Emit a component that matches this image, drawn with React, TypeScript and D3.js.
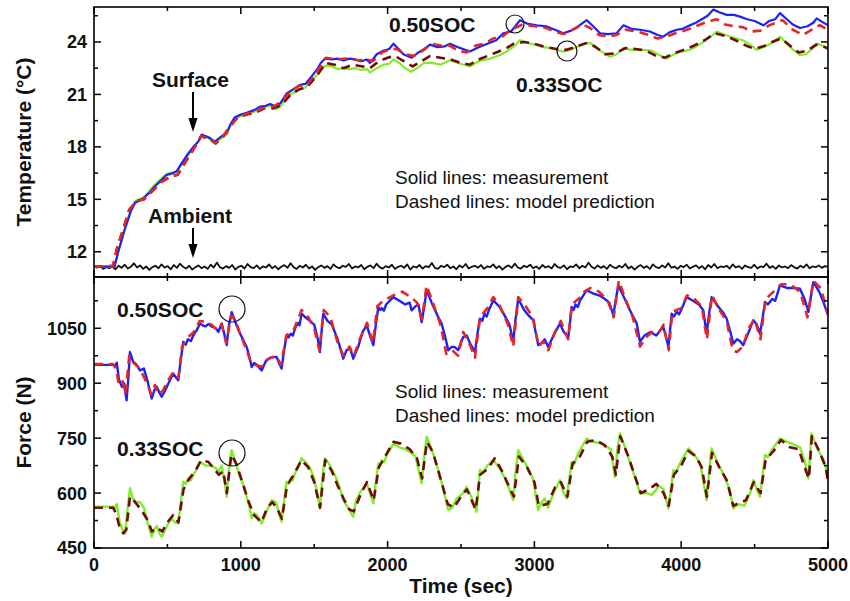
import React from "react";
import * as d3 from "d3";

// ---------- DATA ----------
const timeTicks = [0, 1000, 2000, 3000, 4000, 5000];
const timeMinorTicks = [500, 1500, 2500, 3500, 4500];
const tempTicks = [12, 15, 18, 21, 24];
const tempMinorTicks = [13.5, 16.5, 19.5, 22.5, 25.5];
const forceTicks = [450, 600, 750, 900, 1050];
const forceMinorTicks = [525, 675, 825, 975, 1125];

// Temperature, 0.50 SOC measurement (blue)
const temp50Meas: [number, number][] = [
  [0, 11.15], [140, 11.15], [165, 12.0], [210, 13.3], [250, 14.3], [280, 14.8], [336, 15.05], [380, 15.4], [415, 15.75],
  [460, 16.1], [495, 16.4], [540, 16.5], [563, 16.6], [600, 17.1], [640, 17.6], [677, 18.0], [710, 18.3], [733, 18.7],
  [780, 18.55], [824, 18.3], [860, 18.55], [904, 18.8], [930, 19.3], [960, 19.7], [1000, 19.85], [1040, 19.95],
  [1090, 20.1], [1131, 20.3], [1170, 20.35], [1199, 20.45], [1240, 20.3], [1270, 20.5], [1312, 21.05], [1360, 21.3],
  [1403, 21.55], [1440, 21.6], [1470, 21.9], [1517, 22.4], [1545, 22.8], [1574, 23.05], [1620, 23.0], [1660, 23.05],
  [1700, 22.95], [1740, 23.05], [1780, 23.0], [1820, 22.9], [1858, 23.0], [1880, 22.8], [1926, 23.3], [1970, 23.5],
  [2010, 23.6], [2040, 23.9], [2075, 23.6], [2107, 23.3], [2164, 23.1], [2210, 23.4], [2250, 23.6], [2289, 23.85],
  [2340, 23.7], [2390, 23.75], [2425, 23.9], [2480, 23.7], [2561, 23.45], [2620, 23.7], [2680, 23.9], [2740, 24.1],
  [2788, 24.5], [2840, 24.6], [2870, 24.9], [2902, 25.25], [2950, 25.05], [3016, 24.95], [3080, 24.9], [3140, 24.7],
  [3197, 24.5], [3250, 24.65], [3300, 24.9], [3356, 25.25], [3400, 24.9], [3447, 24.5], [3500, 24.45], [3560, 24.5],
  [3606, 24.95], [3660, 24.75], [3720, 24.7], [3787, 24.6], [3840, 24.4], [3878, 24.3], [3920, 24.55], [3969, 24.7],
  [4010, 24.75], [4060, 24.95], [4100, 25.1], [4140, 25.3], [4180, 25.5], [4219, 25.85], [4260, 25.7], [4310, 25.55],
  [4360, 25.55], [4400, 25.45], [4450, 25.3], [4500, 25.2], [4560, 24.95], [4600, 25.2], [4640, 25.3], [4673, 25.65],
  [4720, 25.3], [4760, 25.0], [4809, 24.8], [4860, 24.9], [4900, 25.1], [4923, 25.35], [4960, 25.15], [5000, 24.95],
];

// Temperature, 0.50 SOC model (red dashed)
const temp50Model: [number, number][] = [
  [0, 11.15], [130, 11.2], [160, 12.3], [200, 13.3], [240, 14.4], [290, 14.9], [340, 15.0], [400, 15.5], [460, 16.0],
  [520, 16.3], [570, 16.4], [620, 17.1], [680, 17.9], [730, 18.6], [780, 18.5], [830, 18.2], [880, 18.6], [930, 19.2],
  [980, 19.7], [1040, 19.9], [1100, 20.0], [1160, 20.25], [1220, 20.3], [1280, 20.6], [1340, 21.2], [1400, 21.5],
  [1450, 21.5], [1520, 22.3], [1580, 23.1], [1650, 23.0], [1720, 23.05], [1800, 22.95], [1860, 23.0], [1900, 22.9],
  [1960, 23.4], [2020, 23.6], [2060, 23.6], [2120, 23.3], [2180, 23.2], [2240, 23.5], [2300, 23.9], [2360, 23.8],
  [2420, 23.8], [2480, 23.5], [2540, 23.4], [2600, 23.8], [2660, 23.9], [2720, 24.2], [2780, 24.3], [2840, 24.7],
  [2920, 25.0], [3000, 24.9], [3080, 24.8], [3150, 24.55], [3200, 24.45], [3260, 24.7], [3330, 25.0], [3380, 24.8],
  [3440, 24.4], [3500, 24.3], [3560, 24.4], [3620, 24.7], [3700, 24.6], [3780, 24.4], [3840, 24.2], [3900, 24.3],
  [3960, 24.5], [4040, 24.7], [4100, 24.9], [4160, 25.1], [4240, 25.3], [4300, 25.0], [4360, 24.9], [4420, 24.85],
  [4480, 24.6], [4540, 24.65], [4600, 24.95], [4691, 25.25], [4760, 24.7], [4830, 24.4], [4890, 24.7], [4944, 24.97],
  [5000, 24.7],
];

// Temperature, 0.33 SOC measurement (green)
const temp33Meas: [number, number][] = [
  [0, 11.15], [140, 11.15], [165, 12.0], [210, 13.3], [250, 14.4], [280, 14.9], [336, 15.1], [380, 15.5], [415, 15.85],
  [460, 16.2], [495, 16.45], [540, 16.55], [563, 16.6], [600, 17.05], [640, 17.5], [677, 17.95], [710, 18.3], [733, 18.65],
  [780, 18.5], [824, 18.2], [860, 18.45], [904, 18.7], [930, 19.2], [960, 19.6], [1000, 19.75], [1040, 19.85],
  [1090, 20.0], [1131, 20.2], [1170, 20.3], [1199, 20.35], [1240, 20.15], [1270, 20.3], [1312, 20.85], [1360, 21.1],
  [1403, 21.3], [1440, 21.4], [1470, 21.7], [1517, 22.1], [1545, 22.4], [1574, 22.65], [1620, 22.6], [1660, 22.45],
  [1700, 22.5], [1740, 22.45], [1780, 22.5], [1820, 22.4], [1858, 22.45], [1880, 22.25], [1926, 22.5], [1970, 22.7],
  [2010, 22.75], [2040, 23.0], [2080, 22.8], [2120, 22.5], [2160, 22.3], [2200, 22.5], [2250, 22.8], [2300, 22.8],
  [2360, 22.7], [2425, 22.95], [2480, 22.8], [2561, 22.6], [2620, 22.9], [2680, 23.0], [2766, 23.25], [2820, 23.5],
  [2870, 23.8], [2902, 24.1], [2950, 23.95], [3000, 23.85], [3060, 23.7], [3120, 23.65], [3170, 23.5], [3208, 23.45],
  [3260, 23.6], [3333, 23.9], [3380, 23.95], [3440, 23.55], [3515, 23.15], [3560, 23.3], [3606, 23.65], [3660, 23.55],
  [3740, 23.55], [3800, 23.5], [3850, 23.25], [3901, 23.05], [3950, 23.3], [4000, 23.45], [4060, 23.55], [4105, 23.75],
  [4150, 24.0], [4200, 24.3], [4241, 24.6], [4300, 24.4], [4377, 24.2], [4420, 24.1], [4470, 23.85], [4514, 23.55],
  [4560, 23.7], [4620, 23.95], [4673, 24.3], [4720, 23.9], [4770, 23.5], [4809, 23.25], [4850, 23.3], [4890, 23.6],
  [4930, 23.9], [4970, 23.75], [5000, 23.65],
];

// Temperature, 0.33 SOC model (dark red dashed)
const temp33Model: [number, number][] = [
  [0, 11.15], [130, 11.2], [160, 12.3], [200, 13.3], [240, 14.4], [290, 14.9], [340, 15.0], [400, 15.5], [460, 16.0],
  [520, 16.3], [570, 16.4], [620, 17.1], [680, 17.9], [730, 18.6], [780, 18.5], [830, 18.2], [880, 18.6], [930, 19.2],
  [980, 19.7], [1040, 19.85], [1100, 19.95], [1160, 20.2], [1220, 20.2], [1280, 20.4], [1340, 21.0], [1400, 21.3],
  [1450, 21.4], [1520, 22.1], [1580, 22.8], [1640, 22.7], [1700, 22.5], [1760, 22.7], [1830, 22.6], [1880, 22.5],
  [1940, 22.9], [2000, 23.1], [2050, 23.2], [2110, 22.9], [2170, 22.6], [2230, 22.9], [2290, 23.2], [2360, 23.1],
  [2430, 23.0], [2500, 22.8], [2560, 22.7], [2620, 23.0], [2680, 23.2], [2740, 23.4], [2800, 23.6], [2860, 23.9],
  [2930, 24.0], [3000, 23.9], [3080, 23.7], [3150, 23.6], [3220, 23.55], [3290, 23.75], [3360, 23.95], [3420, 23.7],
  [3480, 23.3], [3550, 23.35], [3620, 23.65], [3690, 23.6], [3760, 23.5], [3830, 23.2], [3890, 23.1], [3950, 23.35],
  [4020, 23.55], [4090, 23.8], [4160, 24.1], [4230, 24.5], [4300, 24.35], [4370, 24.1], [4440, 23.8], [4500, 23.6],
  [4560, 23.75], [4620, 24.0], [4680, 24.2], [4740, 23.8], [4800, 23.4], [4860, 23.5], [4920, 23.85], [4980, 23.7],
  [5000, 23.6],
];

// Ambient temperature (black), evenly spaced over 0..5000 s
const ambientTemp = [
  11.14, 11.10, 11.18, 11.02, 11.12, 11.06, 11.16, 11.00, 11.20, 11.08, 11.26, 11.04, 11.14, 11.34, 11.10, 11.22,
  11.02, 11.16, 10.96, 11.12, 11.20, 11.06, 11.28, 11.10, 11.18, 11.00, 11.24, 11.08, 11.32, 11.14, 11.04, 11.20,
  10.98, 11.12, 11.22, 11.06, 11.16, 11.02, 11.26, 11.10, 11.38, 11.12, 11.04, 11.18, 11.08, 11.24, 10.98, 11.14,
  11.20, 11.04, 11.30, 11.12, 11.06, 11.22, 11.02, 11.16, 11.10, 11.28, 11.06, 11.18, 11.00, 11.14, 11.24, 11.08,
  11.34, 11.12, 11.02, 11.20, 11.10, 11.26, 11.04, 11.16, 10.96, 11.12, 11.22, 11.08, 11.18, 11.02, 11.28, 11.12,
  11.06, 11.20, 11.14, 11.30, 11.04, 11.16, 11.10, 11.24, 11.00, 11.14, 11.22, 11.06, 11.32, 11.12, 11.04, 11.18,
  11.10, 11.26, 11.02, 11.14, 11.20, 11.08, 11.28, 10.98, 11.16, 11.10, 11.24, 11.04, 11.18, 11.12, 11.36, 11.08,
  11.02, 11.20, 11.12, 11.26, 11.06, 11.16, 11.00, 11.22, 11.10, 11.30, 11.04, 11.14, 11.20, 11.08, 11.24, 11.02,
  11.16, 11.12, 11.28, 11.06, 11.18, 10.98, 11.14, 11.22, 11.08, 11.32, 11.10, 11.04, 11.20, 11.12, 11.26, 11.06,
  11.16, 11.02, 11.24, 11.10, 11.18, 11.04, 11.30, 11.12, 11.08, 11.22, 11.00, 11.16, 11.12, 11.28, 11.06, 11.20,
  11.10, 11.38, 11.14, 11.04, 11.22, 11.08, 11.18, 11.02, 11.26, 11.12, 11.06, 11.20, 11.10, 11.30, 11.04, 11.16,
  10.98, 11.14, 11.24, 11.08, 11.18, 11.02, 11.28, 11.12, 11.06, 11.22, 11.10, 11.34, 11.08, 11.16, 11.02, 11.20,
  11.12, 11.26, 11.04, 11.14, 11.22, 11.06, 11.18, 11.00, 11.24, 11.10, 11.30, 11.06, 11.16, 11.12, 11.20, 11.04,
  11.28, 11.10, 11.18, 11.02, 11.22, 11.12, 11.08, 11.26, 11.04, 11.16, 11.12, 11.32, 11.08, 11.18, 11.02, 11.22,
  11.10, 11.16, 11.06, 11.24, 11.12, 11.04, 11.20, 11.10, 11.28, 11.06, 11.16, 11.12, 11.22, 11.08, 11.18, 11.14,
];

// Force, 0.50 SOC measurement (blue)
const force50Meas: [number, number][] = [
  [0, 950], [132, 950], [145, 948], [155, 956], [170, 910], [190, 890], [205, 900], [222, 853], [235, 920], [245, 985],
  [265, 960], [290, 950], [313, 935], [340, 940], [365, 905], [393, 858], [410, 880], [427, 890], [445, 875], [461, 863],
  [485, 880], [506, 899], [540, 926], [560, 915], [574, 908], [590, 960], [608, 1013], [625, 1005], [640, 1020], [660, 1015],
  [677, 1031], [700, 1045], [722, 1063], [740, 1058], [760, 1055], [780, 1062], [800, 1055], [830, 1050], [847, 1040], [870, 1063], [890, 1030], [904, 1004],
  [920, 1060], [938, 1094], [960, 1070], [990, 1040], [1020, 1015], [1040, 999], [1060, 970], [1074, 944], [1090, 955],
  [1110, 950], [1142, 935], [1170, 960], [1200, 970], [1244, 972], [1260, 955], [1278, 940], [1295, 990], [1312, 1031],
  [1325, 1025], [1340, 1035], [1355, 1030], [1370, 1050], [1390, 1065], [1400, 1058], [1414, 1090], [1440, 1080], [1470, 1070], [1500, 1060], [1525, 1020],
  [1539, 985], [1550, 1040], [1562, 1090], [1590, 1070], [1620, 1060], [1660, 1020], [1698, 967], [1720, 990],
  [1745, 995], [1766, 967], [1800, 1000], [1830, 1040], [1858, 1058], [1880, 1030], [1903, 1004], [1920, 1060],
  [1937, 1108], [1950, 1100], [1960, 1105], [1975, 1098], [1990, 1115], [2039, 1135], [2080, 1125], [2120, 1115], [2150, 1120], [2164, 1099],
  [2190, 1110], [2210, 1115], [2232, 1067], [2250, 1110], [2266, 1154], [2300, 1120], [2340, 1085], [2368, 1063],
  [2390, 1030], [2413, 990], [2440, 1000], [2460, 998], [2480, 990], [2515, 1026], [2540, 1030], [2560, 1010],
  [2595, 985], [2610, 1030], [2629, 1076], [2645, 1070], [2660, 1090], [2675, 1082], [2690, 1100], [2720, 1126], [2760, 1110], [2790, 1090],
  [2830, 1060], [2856, 1013], [2870, 1070], [2890, 1131], [2930, 1100], [2960, 1085], [2992, 1072], [3026, 1004],
  [3050, 1010], [3070, 1020], [3094, 999], [3130, 1030], [3174, 1063], [3200, 1040], [3231, 1026], [3254, 1108],
  [3268, 1100], [3280, 1115], [3295, 1108], [3310, 1125], [3356, 1154], [3400, 1145], [3440, 1140], [3480, 1130], [3510, 1120], [3538, 1086],
  [3555, 1130], [3572, 1167], [3610, 1135], [3650, 1100], [3697, 1063], [3719, 1013], [3750, 1030], [3790, 1040],
  [3830, 1030], [3878, 1054], [3900, 1020], [3913, 999], [3935, 1090], [3950, 1082], [3970, 1095], [3985, 1088], [4000, 1100], [4037, 1135],
  [4080, 1125], [4120, 1115], [4150, 1100], [4173, 1035], [4190, 1090], [4207, 1135], [4250, 1110], [4290, 1090],
  [4310, 1076], [4335, 1040], [4355, 1008], [4380, 1020], [4400, 1015], [4423, 1004], [4460, 1040], [4491, 1072],
  [4515, 1060], [4537, 1035], [4555, 1080], [4571, 1122], [4590, 1115], [4620, 1130], [4640, 1125], [4673, 1167], [4720, 1160], [4770, 1160],
  [4809, 1158], [4840, 1130], [4867, 1095], [4885, 1140], [4900, 1176], [4940, 1150], [4970, 1120], [5000, 1086],
];

// Force, 0.50 SOC model (red dashed)
const force50Model: [number, number][] = [
  [0, 952], [130, 952], [150, 940], [170, 895], [195, 905], [215, 870], [240, 975], [270, 955], [300, 945], [330, 925],
  [360, 900], [390, 870], [415, 895], [440, 870], [470, 880], [500, 905], [540, 930], [575, 915], [600, 1000],
  [640, 1025], [680, 1040], [720, 1070], [760, 1068], [800, 1060], [840, 1045], [870, 1060], [900, 1010], [935, 1085],
  [960, 1075], [1000, 1030], [1040, 990], [1070, 955], [1100, 950], [1140, 945], [1180, 965], [1240, 975], [1275, 950],
  [1310, 1030], [1360, 1045], [1414, 1100], [1460, 1080], [1500, 1050], [1535, 990], [1565, 1100], [1610, 1080],
  [1660, 1010], [1700, 975], [1740, 1000], [1770, 975], [1810, 1020], [1860, 1065], [1900, 1010], [1930, 1110],
  [1970, 1125], [2040, 1140], [2100, 1150], [2160, 1135], [2200, 1120], [2235, 1075], [2265, 1167], [2300, 1130],
  [2360, 1060], [2400, 980], [2440, 990], [2480, 975], [2515, 1040], [2560, 1005], [2595, 970], [2630, 1080],
  [2680, 1105], [2720, 1135], [2760, 1115], [2820, 1060], [2856, 1000], [2890, 1135], [2940, 1110], [2990, 1080],
  [3030, 1000], [3060, 1015], [3095, 990], [3140, 1040], [3180, 1070], [3230, 1020], [3255, 1115], [3300, 1130],
  [3340, 1150], [3380, 1160], [3440, 1150], [3500, 1125], [3540, 1080], [3575, 1180], [3620, 1130], [3670, 1080],
  [3720, 1000], [3760, 1025], [3800, 1040], [3850, 1040], [3880, 1060], [3915, 990], [3940, 1095], [4000, 1105],
  [4040, 1140], [4090, 1130], [4140, 1110], [4175, 1020], [4210, 1140], [4260, 1100], [4310, 1070], [4350, 990],
  [4380, 985], [4420, 1000], [4460, 1050], [4500, 1075], [4540, 1020], [4575, 1130], [4630, 1150], [4680, 1170],
  [4740, 1170], [4810, 1150], [4860, 1080], [4900, 1180], [4950, 1160], [5000, 1090],
];

// Force, 0.33 SOC measurement (green)
const force33Meas: [number, number][] = [
  [0, 563], [130, 563], [145, 560], [155, 570], [175, 520], [195, 500], [211, 490], [230, 560], [245, 613], [265, 585],
  [290, 575], [313, 575], [340, 560], [365, 520], [393, 481], [410, 500], [427, 510], [445, 490], [461, 481], [485, 500],
  [506, 517], [530, 530], [550, 520], [574, 517], [590, 570], [608, 631], [625, 625], [640, 640], [660, 635], [677, 650], [700, 665], [722, 685],
  [760, 675], [800, 675], [830, 668], [847, 658], [870, 675], [890, 630], [904, 590], [920, 670], [938, 717], [960, 690],
  [990, 650], [1020, 620], [1040, 590], [1060, 560], [1074, 531], [1090, 545], [1110, 540], [1142, 517], [1170, 545],
  [1210, 581], [1240, 575], [1260, 545], [1278, 522], [1295, 580], [1312, 631], [1325, 625], [1340, 640], [1355, 635], [1370, 655], [1390, 670],
  [1414, 695], [1440, 685], [1470, 670], [1500, 640], [1525, 590], [1539, 558], [1555, 640], [1573, 695], [1600, 680],
  [1640, 650], [1670, 620], [1698, 581], [1730, 560], [1766, 535], [1785, 580], [1810, 600], [1858, 627], [1880, 600],
  [1903, 572], [1920, 630], [1937, 681], [1950, 675], [1960, 690], [1975, 684], [1990, 700], [2039, 735], [2080, 725], [2120, 720], [2160, 710],
  [2190, 700], [2232, 627], [2250, 700], [2266, 754], [2300, 720], [2340, 670], [2380, 610], [2413, 554], [2440, 560],
  [2470, 585], [2515, 600], [2538, 617], [2570, 590], [2606, 549], [2629, 663], [2645, 655], [2680, 675], [2720, 690], [2760, 670],
  [2800, 640], [2856, 581], [2870, 650], [2890, 717], [2940, 680], [2990, 640], [3026, 554], [3050, 575], [3070, 585],
  [3094, 560], [3130, 600], [3174, 635], [3200, 600], [3219, 585], [3254, 685], [3270, 678], [3300, 710], [3356, 749], [3400, 740],
  [3460, 735], [3520, 720], [3549, 644], [3565, 720], [3583, 763], [3630, 710], [3680, 650], [3719, 599], [3760, 600],
  [3800, 595], [3850, 620], [3880, 610], [3913, 558], [3947, 663], [3965, 655], [3990, 680], [4049, 722], [4090, 705], [4130, 680],
  [4173, 581], [4190, 660], [4207, 722], [4250, 680], [4290, 650], [4330, 610], [4355, 558], [4390, 570], [4430, 565],
  [4470, 600], [4491, 635], [4515, 610], [4537, 590], [4571, 704], [4590, 698], [4620, 720], [4673, 749], [4720, 740], [4780, 730],
  [4809, 725], [4840, 690], [4867, 640], [4887, 763], [4930, 720], [4970, 690], [5000, 649],
];

// Force, 0.33 SOC model (dark red dashed)
const force33Model: [number, number][] = [
  [0, 560], [130, 560], [150, 545], [175, 505], [200, 490], [220, 500], [245, 590], [280, 575], [320, 555], [360, 530],
  [395, 495], [430, 505], [465, 495], [500, 520], [540, 540], [575, 520], [610, 610], [650, 640], [690, 660], [730, 690],
  [780, 685], [820, 665], [850, 650], [880, 660], [905, 600], [935, 705], [970, 680], [1010, 630], [1050, 580],
  [1090, 540], [1140, 520], [1180, 560], [1215, 575], [1245, 560], [1280, 530], [1315, 620], [1360, 650], [1414, 690],
  [1460, 670], [1500, 630], [1540, 560], [1575, 690], [1620, 660], [1660, 620], [1700, 585], [1740, 555], [1770, 550],
  [1820, 600], [1860, 630], [1905, 580], [1940, 670], [1990, 705], [2040, 740], [2090, 735], [2150, 720], [2200, 695],
  [2235, 640], [2268, 740], [2310, 710], [2360, 640], [2410, 570], [2450, 560], [2500, 590], [2540, 610], [2600, 555],
  [2630, 650], [2680, 665], [2730, 695], [2780, 660], [2830, 615], [2860, 590], [2895, 700], [2950, 670], [3000, 630],
  [3030, 565], [3090, 570], [3140, 615], [3180, 630], [3225, 590], [3260, 680], [3310, 700], [3360, 740], [3420, 745],
  [3480, 730], [3530, 700], [3555, 650], [3585, 755], [3640, 700], [3690, 640], [3725, 600], [3780, 610], [3830, 625],
  [3880, 600], [3915, 565], [3950, 650], [4000, 675], [4050, 715], [4100, 700], [4140, 670], [4175, 590], [4210, 710],
  [4260, 670], [4310, 635], [4355, 565], [4400, 575], [4440, 580], [4495, 630], [4540, 600], [4575, 690], [4630, 715],
  [4680, 745], [4740, 725], [4800, 720], [4850, 660], [4870, 640], [4890, 755], [4940, 715], [4985, 670], [5000, 630],
];

// ---------- LAYOUT ----------
const W = 850;
const H = 601;
const LEFT = 94;
const RIGHT = 828;
const TOP1 = 7;
const MID = 277;
const BOT2 = 548;

const COLORS = {
  blue: "#1e22f5",
  red: "#e3262a",
  green: "#82ec2a",
  brown: "#6e0c0c",
  black: "#111111",
};

const x = d3.scaleLinear().domain([0, 5000]).range([LEFT, RIGHT]);
const yT = d3.scaleLinear().domain([10.5, 26]).range([MID + 1, TOP1]);
const yF = d3.scaleLinear().domain([450, 1190]).range([BOT2, MID]);

const FONT = "Arial, 'Liberation Sans', Helvetica, sans-serif";

function Arrow({ cx, y1, y2 }: { cx: number; y1: number; y2: number }) {
  return (
    <g>
      <line x1={cx} x2={cx} y1={y1} y2={y2 - 12} stroke="#000" strokeWidth={2} />
      <path d={`M${cx - 4.5},${y2 - 14} L${cx + 4.5},${y2 - 14} L${cx},${y2} Z`} fill="#000" />
    </g>
  );
}

export default function App() {
  const lineT = d3
    .line<[number, number]>()
    .x((d) => x(d[0]))
    .y((d) => yT(d[1]));
  const lineF = d3
    .line<[number, number]>()
    .x((d) => x(d[0]))
    .y((d) => yF(d[1]));
  const ambStep = 5000 / (ambientTemp.length - 1);
  const ambPts: [number, number][] = ambientTemp.map((v, i) => [i * ambStep, v]);

  const xTickEls = (yEdge: number, dir: number, key: string) => (
    <g key={key}>
      {timeTicks.map((t) => (
        <line key={"M" + t} x1={x(t)} x2={x(t)} y1={yEdge} y2={yEdge + dir * 7} stroke="#000" strokeWidth={1.5} />
      ))}
      {timeMinorTicks.map((t) => (
        <line key={"m" + t} x1={x(t)} x2={x(t)} y1={yEdge} y2={yEdge + dir * 4} stroke="#000" strokeWidth={1.5} />
      ))}
    </g>
  );

  const yTickEls = (
    scale: d3.ScaleLinear<number, number>,
    major: number[],
    minor: number[],
    key: string
  ) => (
    <g key={key}>
      {major.map((v) => (
        <g key={"M" + v}>
          <line x1={LEFT} x2={LEFT + 7} y1={scale(v)} y2={scale(v)} stroke="#000" strokeWidth={1.5} />
          <line x1={RIGHT} x2={RIGHT - 7} y1={scale(v)} y2={scale(v)} stroke="#000" strokeWidth={1.5} />
        </g>
      ))}
      {minor.map((v) => (
        <g key={"m" + v}>
          <line x1={LEFT} x2={LEFT + 4} y1={scale(v)} y2={scale(v)} stroke="#000" strokeWidth={1.5} />
          <line x1={RIGHT} x2={RIGHT - 4} y1={scale(v)} y2={scale(v)} stroke="#000" strokeWidth={1.5} />
        </g>
      ))}
    </g>
  );

  const dash = "9,6";

  return (
    <svg
      width={W}
      height={H}
      viewBox={`0 0 ${W} ${H}`}
      style={{ position: "absolute", left: 0, top: 0, background: "#fff" }}
      fontFamily={FONT}
    >
      <defs>
        <clipPath id="clipTop">
          <rect x={LEFT} y={TOP1} width={RIGHT - LEFT} height={MID - TOP1} />
        </clipPath>
        <clipPath id="clipBot">
          <rect x={LEFT} y={MID} width={RIGHT - LEFT} height={BOT2 - MID} />
        </clipPath>
      </defs>
      <rect x={0} y={0} width={W} height={H} fill="#fff" />

      {/* Top panel lines */}
      <g clipPath="url(#clipTop)" fill="none" strokeLinejoin="round">
        <path d={lineT(ambPts) || ""} stroke={COLORS.black} strokeWidth={1.8} />
        <path d={lineT(temp33Meas) || ""} stroke={COLORS.green} strokeWidth={2.2} />
        <path d={lineT(temp33Model) || ""} stroke={COLORS.brown} strokeWidth={2.6} strokeDasharray={dash} />
        <path d={lineT(temp50Meas) || ""} stroke={COLORS.blue} strokeWidth={2.2} />
        <path d={lineT(temp50Model) || ""} stroke={COLORS.red} strokeWidth={2.6} strokeDasharray={dash} />
      </g>

      {/* Bottom panel lines */}
      <g clipPath="url(#clipBot)" fill="none" strokeLinejoin="round">
        <path d={lineF(force33Meas) || ""} stroke={COLORS.green} strokeWidth={2.4} />
        <path d={lineF(force33Model) || ""} stroke={COLORS.brown} strokeWidth={2.6} strokeDasharray={dash} />
        <path d={lineF(force50Meas) || ""} stroke={COLORS.blue} strokeWidth={2.4} />
        <path d={lineF(force50Model) || ""} stroke={COLORS.red} strokeWidth={2.6} strokeDasharray={dash} />
      </g>

      {/* Frames */}
      <rect x={LEFT} y={TOP1} width={RIGHT - LEFT} height={MID - TOP1} fill="none" stroke="#000" strokeWidth={1.6} />
      <rect x={LEFT} y={MID} width={RIGHT - LEFT} height={BOT2 - MID} fill="none" stroke="#000" strokeWidth={1.6} />

      {/* Ticks */}
      {xTickEls(TOP1, 1, "t1")}
      {xTickEls(MID, -1, "t2")}
      {xTickEls(MID, 1, "t3")}
      {xTickEls(BOT2, -1, "t4")}
      {yTickEls(yT, tempTicks, tempMinorTicks, "yt")}
      {yTickEls(yF, forceTicks, forceMinorTicks, "yf")}

      {/* Tick labels */}
      <g fontSize={18} fontWeight="bold" fill="#111">
        {tempTicks.map((v) => (
          <text key={"tl" + v} x={LEFT - 7} y={yT(v)} dy="0.36em" textAnchor="end">
            {v}
          </text>
        ))}
        {forceTicks.map((v) => (
          <text key={"fl" + v} x={LEFT - 7} y={yF(v)} dy="0.36em" textAnchor="end">
            {v}
          </text>
        ))}
        {timeTicks.map((v) => (
          <text key={"xl" + v} x={x(v)} y={571} textAnchor="middle">
            {v}
          </text>
        ))}
      </g>

      {/* Axis titles */}
      <g fontWeight="bold" fill="#111" fontSize={21}>
        <text transform={`translate(31,${(TOP1 + MID) / 2}) rotate(-90)`} textAnchor="middle">
          Temperature (°C)
        </text>
        <text transform={`translate(31,${(MID + BOT2) / 2 + 10}) rotate(-90)`} textAnchor="middle">
          Force (N)
        </text>
        <text x={(LEFT + RIGHT) / 2} y={593} textAnchor="middle">
          Time (sec)
        </text>
      </g>

      {/* Annotations */}
      <g fontWeight="bold" fill="#111" fontSize={21}>
        <text x={389} y={32}>0.50SOC</text>
        <text x={516} y={92}>0.33SOC</text>
        <text x={152} y={87}>Surface</text>
        <text x={148} y={223}>Ambient</text>
        <text x={117} y={317}>0.50SOC</text>
        <text x={117} y={456}>0.33SOC</text>
      </g>
      <Arrow cx={193} y1={92} y2={132} />
      <Arrow cx={193} y1={228} y2={258} />
      <g fill="none" stroke="#111" strokeWidth={1.2}>
        <circle cx={515} cy={24} r={9} />
        <circle cx={567} cy={51} r={10} />
        <circle cx={232} cy={309} r={13} />
        <circle cx={232} cy={453} r={13} />
      </g>
      <g fontSize={19} fill="#111">
        <text x={395} y={184}>Solid lines: measurement</text>
        <text x={395} y={208}>Dashed lines: model prediction</text>
        <text x={395} y={398}>Solid lines: measurement</text>
        <text x={395} y={422}>Dashed lines: model prediction</text>
      </g>
    </svg>
  );
}
